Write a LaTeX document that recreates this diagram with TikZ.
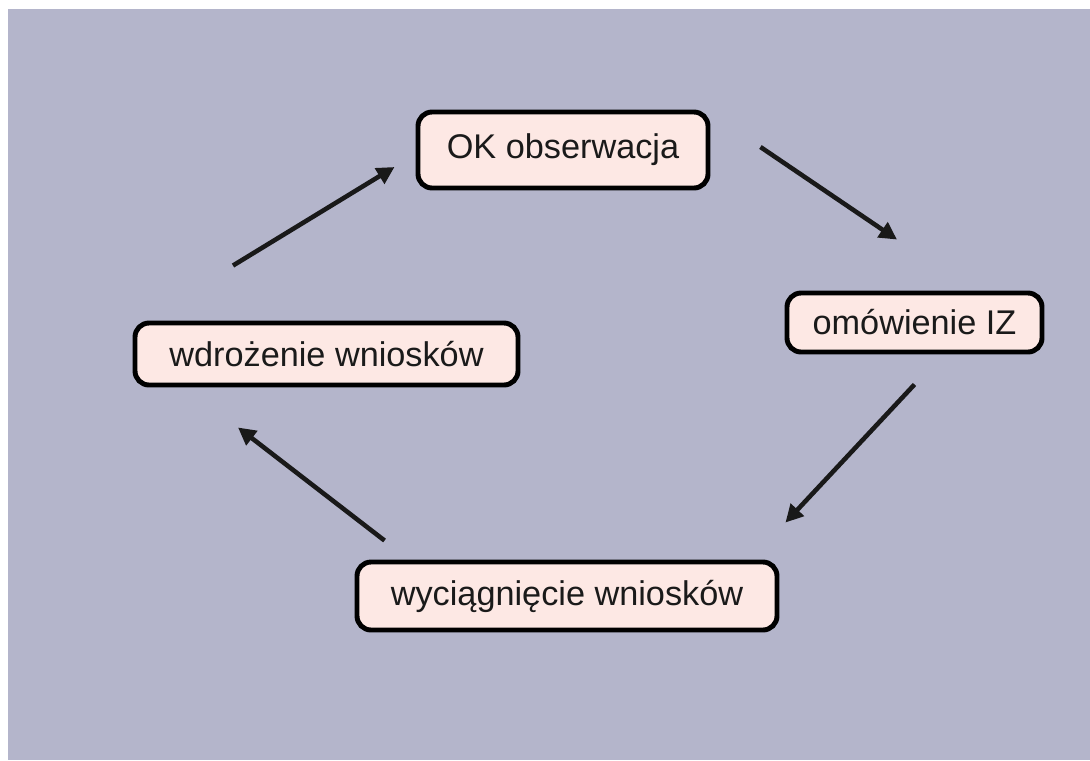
\documentclass[tikz,border=0pt]{standalone}
\usepackage{fontspec}
\setmainfont{Liberation Sans}
\usepackage{tikz}
\usetikzlibrary{arrows.meta}

\definecolor{tlo}{RGB}{180,181,203}
\definecolor{ramka}{RGB}{253,232,228}
\definecolor{tekst}{RGB}{26,26,26}

\tikzset{
    etap/.style={rectangle, rounded corners=8pt, draw=black, line width=2.8pt, fill=ramka, text=tekst, font=\fontsize{19.5}{23}\selectfont, inner sep=0pt},
    strzalka/.style={-{Triangle[length=10pt, width=10pt]}, line width=2.6pt, draw=black!90}
}

\begin{document}
\begin{tikzpicture}
        \useasboundingbox (0,0) rectangle (21.8,-15.2);
        \fill[tlo] (0.16,-0.18) rectangle (21.8,-15.2);

        \node (obs) at (11.26,-3.0)[etap, minimum width=5.8cm, minimum height=1.52cm] {OK obserwacja\hspace{0.32cm}};
        \node (omow) at (18.29,-6.45)[etap, minimum width=5.1cm, minimum height=1.18cm] {omówienie IZ\hspace{0.28cm}};
        \node (wdroz) at (6.53,-7.08)[etap, minimum width=7.66cm, minimum height=1.24cm] {wdrożenie wniosków};
        \node (wyc) at (11.34,-11.92)[etap, minimum width=8.4cm, minimum height=1.36cm] {wyciągnięcie wniosków\hspace{0.36cm}};

        \draw[strzalka] ([shift={(1.0,0.06)}]obs.east) -- ([shift={(-0.35,1.02)}]omow.north);

        \draw[strzalka] ([yshift=-0.6cm]omow.south) -- ([shift={(0.12,0.74)}]wyc.north east);

        \draw[strzalka] ([shift={(0.6,0.38)}]wyc.north west) -- ([shift={(-1.77,-0.8)}]wdroz.south);

        \draw[strzalka] ([shift={(-1.87,1.1)}]wdroz.north) -- ([shift={(-0.42,-0.34)}]obs.west);

    \end{tikzpicture}
\end{document}
